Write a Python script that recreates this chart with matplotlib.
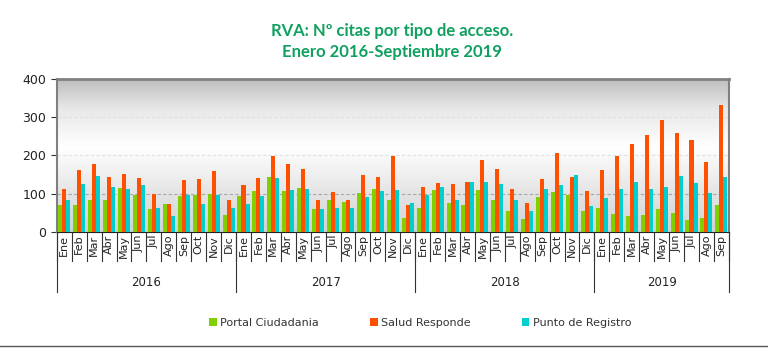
import numpy as np
import matplotlib
matplotlib.use("Agg")
import matplotlib.pyplot as plt
from matplotlib.lines import Line2D
from matplotlib.colors import LinearSegmentedColormap

months = ['Ene', 'Feb', 'Mar', 'Abr', 'May', 'Jun', 'Jul', 'Ago', 'Sep', 'Oct', 'Nov', 'Dic']
years = ['2016', '2017', '2018', '2019']
months_per_year = [12, 12, 12, 9]

# Portal Ciudadania
portal = [70, 72, 85, 85, 114, 98, 59, 74, 93, 96, 100, 44,
          93, 106, 143, 106, 114, 59, 85, 78, 101, 112, 85, 38,
          62, 109, 75, 72, 109, 83, 54, 33, 91, 104, 98, 54,
          64, 46, 41, 44, 59, 51, 31, 38, 72]
# Salud Responde
salud = [112, 161, 179, 145, 151, 140, 100, 74, 135, 138, 159, 83,
         122, 140, 198, 177, 164, 85, 104, 83, 148, 143, 198, 72,
         119, 127, 125, 130, 187, 164, 112, 75, 138, 206, 143, 106,
         161, 198, 229, 253, 292, 258, 240, 182, 331]
# Punto de Registro
punto = [85, 126, 146, 119, 112, 122, 64, 41, 96, 74, 98, 62,
         74, 93, 140, 109, 112, 59, 64, 62, 91, 106, 109, 75,
         96, 117, 85, 132, 132, 125, 85, 54, 112, 122, 148, 67,
         88, 112, 132, 112, 119, 146, 127, 101, 143]

labels = []
for n in months_per_year:
    labels += months[:n]
x = np.arange(len(labels))

fig = plt.figure(figsize=(7.68, 3.49), dpi=100)
ax = fig.add_axes([0.074, 0.335, 0.875, 0.439])

# gradient background
cmap = LinearSegmentedColormap.from_list('bg', [(0, '#d2d2d2'), (0.25, '#e4e4e4'), (0.55, '#ffffff'),
                                                (0.8, '#e8e8e8'), (1, '#bdbdbd')])
grad = np.linspace(0, 1, 256).reshape(-1, 1)
ax.imshow(grad, aspect='auto', cmap=cmap, origin='lower', extent=[0, 1, 0, 1],
          transform=ax.transAxes, zorder=0)

w = 0.27
ax.bar(x - w, portal, w, color='#80d000', zorder=3, label='Portal Ciudadania')
ax.bar(x, salud, w, color='#ff5000', zorder=3, label='Salud Responde')
ax.bar(x + w, punto, w, color='#00cfcf', zorder=3, label='Punto de Registro')

ax.set_xlim(-0.5, len(labels) - 0.5)
ax.set_ylim(0, 400)
ax.set_yticks([0, 100, 200, 300, 400])
ax.tick_params(axis='y', labelsize=9, length=4, colors='#333333', labelcolor='#222222')
ax.axhline(100, color='#a8a8a8', lw=0.8, ls=(0, (3, 2)), zorder=1)
for v in [200, 300]:
    ax.axhline(v, color='#e0e0e0', lw=0.8, ls=(0, (3, 2)), zorder=1)

ax.set_xticks(x)
ax.set_xticklabels(labels, rotation=90, fontsize=8, color='#222222')
ax.tick_params(axis='x', length=0, pad=2)

for s in ['top', 'right', 'left']:
    ax.spines[s].set_color('#808080')
ax.spines['top'].set_linewidth(2)
ax.spines['left'].set_linewidth(1.5)
ax.spines['right'].set_linewidth(1.5)
ax.spines['bottom'].set_color('#222222')

# separators under the axis
trans = ax.get_xaxis_transform()
for i in range(len(labels) + 1):
    ax.plot([i - 0.5, i - 0.5], [0, -0.19], transform=trans, color='#333333', lw=0.8, clip_on=False)
start = 0
for yr, n in zip(years, months_per_year):
    ax.plot([start - 0.5, start - 0.5], [0, -0.39], transform=trans, color='#333333', lw=0.8, clip_on=False)
    ax.text(start + n / 2 - 0.5, -0.33, yr, transform=trans, ha='center', va='center',
            fontsize=8.5, color='#222222')
    start += n
ax.plot([start - 0.5, start - 0.5], [0, -0.39], transform=trans, color='#333333', lw=0.8, clip_on=False)

fig.text(0.51, 0.91, 'RVA: Nº citas por tipo de acceso.', ha='center', va='center',
         fontsize=12, fontweight='bold', color='#10a060', family='Lato')
fig.text(0.51, 0.85, 'Enero 2016-Septiembre 2019', ha='center', va='center',
         fontsize=12, fontweight='bold', color='#10a060', family='Lato')

fig.legend(loc='center', bbox_to_anchor=(0.547, 0.075), ncol=3, frameon=False, fontsize=8,
           handlelength=0.7, handleheight=0.7, handletextpad=0.3, columnspacing=4.6,
           labelcolor='#333333')

fig.add_artist(Line2D([0, 1], [0.01, 0.01], transform=fig.transFigure, color='#555555', lw=1))

fig.savefig('out.png', dpi=100)
